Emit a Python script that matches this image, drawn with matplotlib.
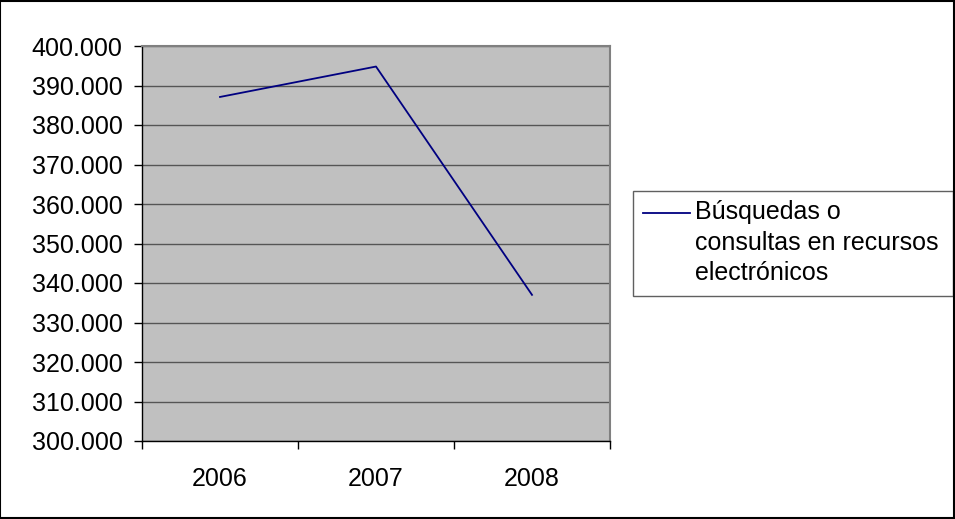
import matplotlib
matplotlib.use('Agg')
import matplotlib.pyplot as plt
from matplotlib.ticker import FuncFormatter, FixedLocator, MultipleLocator
from matplotlib.patches import Rectangle
from matplotlib.lines import Line2D

# Datos
anios = ['2006', '2007', '2008']
busquedas = [387100, 394800, 337000]
etiqueta = 'Búsquedas o\nconsultas en recursos\nelectrónicos'

plt.rcParams['font.family'] = ['Liberation Sans', 'DejaVu Sans']

fig = plt.figure(figsize=(9.55, 5.19), dpi=100)
ax = fig.add_axes([142 / 955, 1 - 441 / 519, 468 / 955, 395 / 519])
ax.set_facecolor('#C0C0C0')

x = [i + 0.5 for i in range(len(anios))]
ax.plot(x, busquedas, color='#000080', lw=1.3, zorder=3)

ax.set_xlim(0, len(anios))
ax.set_ylim(300000, 400000)
ax.yaxis.set_major_locator(MultipleLocator(10000))
ax.yaxis.set_major_formatter(FuncFormatter(lambda v, p: f'{v:,.0f}'.replace(',', '.')))
ax.grid(axis='y', color='#555555', lw=1, zorder=1)

ax.xaxis.set_major_locator(FixedLocator(range(len(anios) + 1)))
ax.xaxis.set_major_formatter(FuncFormatter(lambda v, p: ''))
ax.xaxis.set_minor_locator(FixedLocator(x))
ax.set_xticks(x, anios, minor=True)
ax.tick_params(axis='x', which='major', length=6, width=1, color='black', direction='out')
ax.tick_params(axis='x', which='minor', length=0, pad=19, labelsize=18)
ax.tick_params(axis='y', length=6, width=1, color='black', pad=8, labelsize=18)

for s in ['top', 'right']:
    ax.spines[s].set_color('#808080')
    ax.spines[s].set_linewidth(1.5)
for s in ['left', 'bottom']:
    ax.spines[s].set_color('black')
    ax.spines[s].set_linewidth(1)

# Leyenda
fig.patches.append(Rectangle((633 / 955, 1 - 296 / 519), 320 / 955, 105 / 519,
                             transform=fig.transFigure, fill=False,
                             edgecolor='#606060', lw=1))
fig.lines.append(Line2D([643 / 955, 690 / 955], [1 - 213 / 519, 1 - 213 / 519],
                        transform=fig.transFigure, color='#000080', lw=1.3))
fig.text(695 / 955, 1 - 200 / 519, etiqueta, fontsize=18, va='top', ha='left',
         linespacing=1.35)

# Borde exterior
fig.patches.append(Rectangle((0.0005, 0.001), 0.998, 0.997, transform=fig.transFigure,
                             fill=False, edgecolor='black', lw=1.5))

fig.savefig('out.png', dpi=100)
